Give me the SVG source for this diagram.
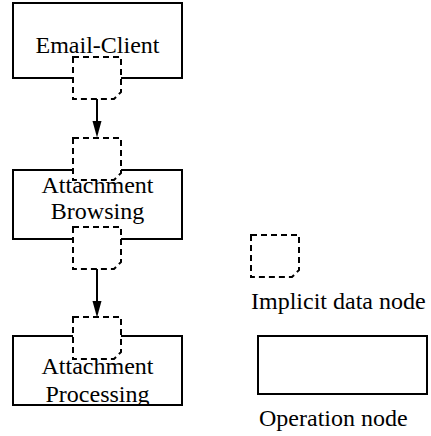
<svg xmlns="http://www.w3.org/2000/svg" width="431" height="436" viewBox="0 0 431 436">
  <style>
    .op { fill: #ffffff; stroke: #000000; stroke-width: 2; }
    .data { fill: #ffffff; stroke: #000000; stroke-width: 2; stroke-dasharray: 6 4; }
    .label { font-family: "Liberation Serif", "Times New Roman", serif; font-size: 24px; fill: #000000; }
    .mid { text-anchor: middle; }
    .edge { stroke: #000000; stroke-width: 2; fill: none; }
    .head { fill: #000000; stroke: none; }
  </style>
  <defs>
    <!-- data node: square with the lower-right corner cut off -->
    <path id="dataShape" d="M0,0 H48 V35 L41,42 H0 Z"/>
    <clipPath id="clipProc">
      <rect x="13" y="336" width="169" height="69"/>
    </clipPath>
  </defs>

  <rect width="431" height="436" fill="#ffffff"/>

  <!-- operation nodes -->
  <g id="op-email-client">
    <rect class="op" x="13" y="3" width="169" height="75"/>
    <text class="label mid" x="97.5" y="53">Email-Client</text>
  </g>
  <g id="op-attachment-browsing">
    <rect class="op" x="13" y="170" width="169" height="69"/>
    <text class="label mid" x="97.5" y="193">Attachment</text>
    <text class="label mid" x="97.5" y="219">Browsing</text>
  </g>
  <g id="op-attachment-processing">
    <rect class="op" x="13" y="336" width="169" height="69"/>
    <g clip-path="url(#clipProc)">
      <text class="label mid" x="97.5" y="374">Attachment</text>
      <text class="label mid" x="97.5" y="402">Processing</text>
    </g>
    <rect x="13" y="336" width="169" height="69" fill="none" stroke="#000000" stroke-width="2"/>
  </g>

  <!-- implicit data nodes -->
  <g id="data-email-out">
    <use href="#dataShape" class="data" x="73" y="57"/>
  </g>
  <g id="data-browsing-in">
    <use href="#dataShape" class="data" x="73" y="138"/>
  </g>
  <g id="data-browsing-out">
    <use href="#dataShape" class="data" x="73" y="227"/>
  </g>
  <g id="data-processing-in">
    <use href="#dataShape" class="data" x="73" y="317"/>
  </g>

  <!-- connectors -->
  <g id="connectors">
    <line class="edge" x1="97" y1="99" x2="97" y2="124"/>
    <polygon class="head" points="92.5,121 101.5,121 97,137.5"/>
    <line class="edge" x1="97" y1="269" x2="97" y2="304"/>
    <polygon class="head" points="92.5,301 101.5,301 97,317.5"/>
  </g>

  <!-- legend -->
  <g id="legend-data">
    <use href="#dataShape" class="data" x="251" y="235"/>
    <text class="label" x="251" y="309">Implicit data node</text>
  </g>
  <g id="legend-op">
    <rect class="op" x="258" y="336" width="169" height="58"/>
    <text class="label" x="259" y="426">Operation node</text>
  </g>
</svg>
